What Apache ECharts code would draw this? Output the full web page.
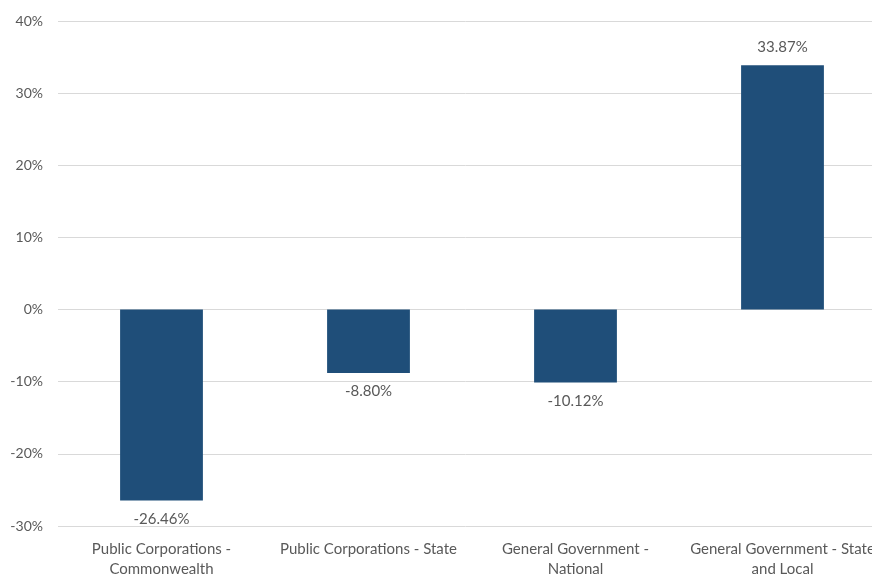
<!DOCTYPE html>
<html>
<head>
<meta charset="utf-8">
<script src="https://cdn.jsdelivr.net/npm/echarts@6/dist/echarts.min.js"></script>
<style>
html,body{margin:0;padding:0;background:#fff;}
#chart{width:872px;height:575px;}
</style>
</head>
<body>
<div id="chart"></div>
<script>
const categories = [
  'Public Corporations -\nCommonwealth',
  'Public Corporations - State',
  'General Government -\nNational',
  'General Government - State\nand Local'
];
const values = [-26.46, -8.80, -10.12, 33.87];
const yMin = -30, yMax = 40, yInterval = 10;

const FONT = 'Lato';
const TEXT = '#595959';

const chart = echarts.init(document.getElementById('chart'), null, {renderer: 'canvas'});
chart.setOption({
  animation: false,
  backgroundColor: '#ffffff',
  grid: {left: 58, right: -14, top: 21, bottom: 49, containLabel: false, outerBoundsMode: 'none'},
  xAxis: {
    type: 'category',
    data: categories,
    axisLine: {show: false, onZero: false},
    axisTick: {show: false},
    axisLabel: {interval: 0, color: TEXT, fontFamily: FONT, fontSize: 15, lineHeight: 20, margin: 13}
  },
  yAxis: {
    type: 'value',
    min: yMin, max: yMax, interval: yInterval,
    axisLine: {show: false},
    axisTick: {show: false},
    splitLine: {lineStyle: {color: '#d9d9d9', width: 1}},
    axisLabel: {formatter: v => v + '%', color: TEXT, fontFamily: FONT, fontSize: 14, margin: 15}
  },
  series: [{
    type: 'bar',
    barWidth: '40%',
    itemStyle: {color: '#1f4e79'},
    data: values.map(v => ({
      value: v,
      label: {position: v >= 0 ? 'top' : 'bottom'}
    })),
    label: {
      show: true,
      distance: 11,
      color: TEXT,
      fontFamily: FONT,
      fontSize: 15,
      formatter: p => p.value.toFixed(2) + '%'
    }
  }]
});
</script>
</body>
</html>
